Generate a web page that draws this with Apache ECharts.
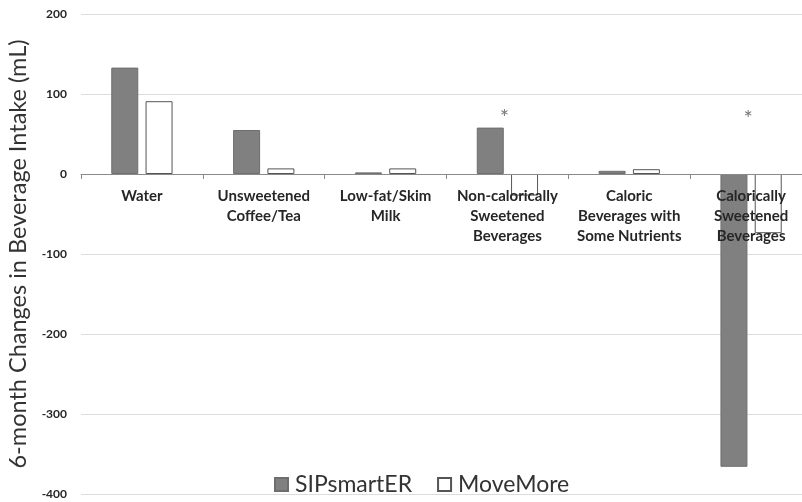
<!DOCTYPE html>
<html>
<head>
<meta charset="utf-8">
<script src="https://cdn.jsdelivr.net/npm/echarts@6/dist/echarts.min.js"></script>
<style>
  html, body { margin: 0; padding: 0; background: #fff; }
  #chart { width: 802px; height: 502px; }
</style>
</head>
<body>
<div id="chart"></div>
<script>
// Beverage categories on the x axis
const categories = [
  'Water',
  'Unsweetened\nCoffee/Tea',
  'Low-fat/Skim\nMilk',
  'Non-calorically\nSweetened\nBeverages',
  'Caloric\nBeverages with\nSome Nutrients',
  'Calorically\nSweetened\nBeverages'
];

// 6-month change in intake (mL) per group
const sipsmarter = [133, 55, 2, 58, 4, -366];
const movemore = [91, 7, 7, -27, 6, -74];

// Significance markers: category index and the height they sit at
const starCategories = [3, 5];
const starHeights = [75, 74];

const yTicks = { min: -400, max: 200, interval: 100 };

const font = 'Lato, "Open Sans", "Liberation Sans", sans-serif';

const GRID_TOP = 14;
const GRID_HEIGHT = 480;
const chart = echarts.init(document.getElementById('chart'), null, { renderer: 'canvas' });

// The category axis sits on the zero line; shift it up from the grid bottom
const zeroOffset = -GRID_HEIGHT * (0 - yTicks.min) / (yTicks.max - yTicks.min);

chart.setOption({
  animation: false,
  backgroundColor: '#ffffff',
  textStyle: { fontFamily: font },
  grid: { left: 81, top: GRID_TOP, width: 731, height: GRID_HEIGHT, containLabel: false, outerBoundsMode: 'none' },
  legend: {
    data: ['SIPsmartER', 'MoveMore'],
    top: 468,
    left: 269,
    icon: 'rect',
    itemWidth: 13,
    itemHeight: 13,
    itemGap: 25,
    textStyle: { fontFamily: font, fontSize: 23, color: '#333', padding: [0, 0, 0, 2] }
  },
  xAxis: {
    type: 'category',
    data: categories,
    z: 10,
    offset: zeroOffset,
    axisLine: { onZero: false, lineStyle: { color: '#8a8a8a', width: 1 } },
    axisTick: { show: true, length: 5, alignWithLabel: false, lineStyle: { color: '#8a8a8a' } },
    axisLabel: {
      interval: 0,
      margin: 12,
      fontFamily: font,
      fontSize: 15,
      fontWeight: 'bold',
      lineHeight: 20,
      color: '#262626'
    },
    splitLine: { show: false }
  },
  yAxis: {
    type: 'value',
    min: yTicks.min,
    max: yTicks.max,
    interval: yTicks.interval,
    name: '6-month Changes in Beverage Intake (mL)',
    nameLocation: 'middle',
    nameGap: 42,
    nameTextStyle: { fontFamily: font, fontSize: 23.5, color: '#333' },
    axisLine: { show: false },
    axisTick: { show: false },
    axisLabel: { margin: 14, fontFamily: font, fontSize: 12, fontWeight: 'bold', color: '#262626' },
    splitLine: { lineStyle: { color: '#dcdcdc', width: 1 } }
  },
  series: [
    {
      name: 'SIPsmartER',
      type: 'bar',
      data: sipsmarter,
      barWidth: 27,
      barGap: '27%',
      itemStyle: { color: '#808080', borderColor: '#6e6e6e', borderWidth: 1 }
    },
    {
      name: 'MoveMore',
      type: 'bar',
      data: movemore,
      barWidth: 27,
      barGap: '27%',
      itemStyle: { color: '#ffffff', borderColor: '#555555', borderWidth: 1 }
    },
    {
      name: 'significance',
      type: 'scatter',
      symbolSize: 0,
      z: 11,
      data: starCategories.map((c, i) => [c, starHeights[i]]),
      label: {
        show: true,
        position: 'inside',
        offset: [-3, 4],
        formatter: '*',
        fontFamily: font,
        fontSize: 22,
        color: '#555'
      },
      tooltip: { show: false }
    }
  ]
});
</script>
</body>
</html>
